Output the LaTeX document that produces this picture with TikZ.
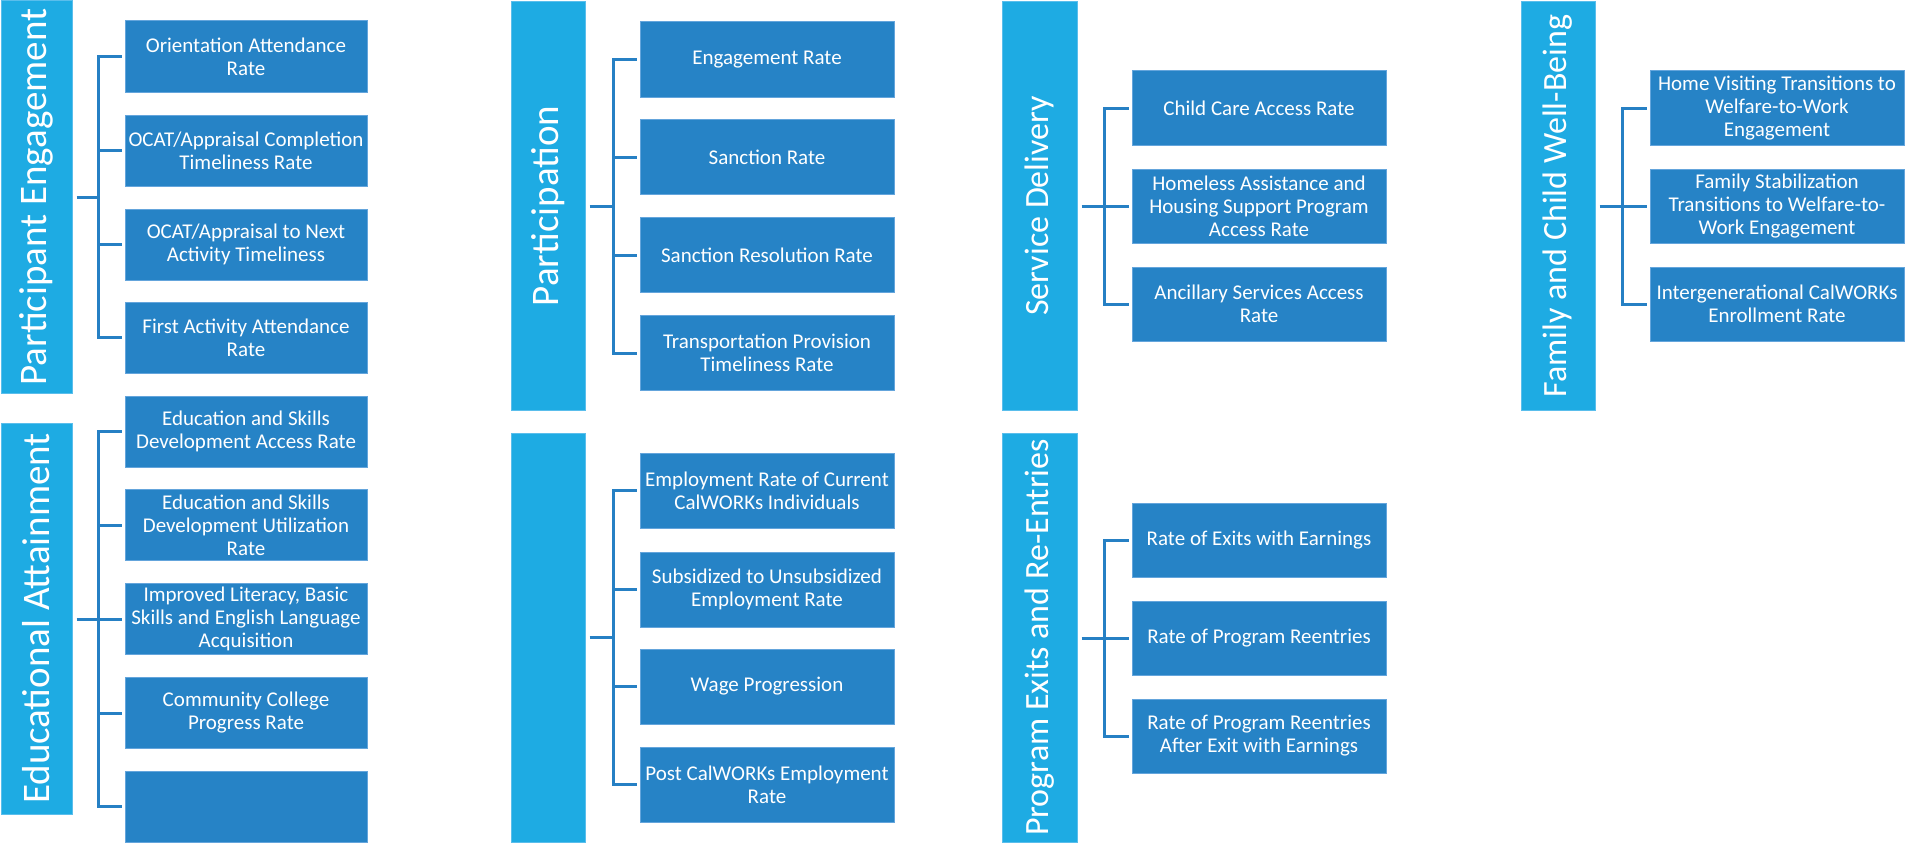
\documentclass[tikz,border=0pt]{standalone}
\usepackage{fontspec}
\setmainfont{Carlito}
\definecolor{hdrc}{RGB}{30,171,227}
\definecolor{hdrb}{RGB}{90,190,236}
\definecolor{boxc}{RGB}{38,131,198}
\definecolor{boxb}{RGB}{100,165,220}
\definecolor{conc}{RGB}{38,128,196}
\newcommand{\bigfnt}{\fontsize{39}{40}\selectfont}
\newcommand{\midfnt}{\fontsize{34}{35}\selectfont}
\newcommand{\boxfnt}{\fontsize{21}{23}\selectfont}
\tikzset{
  hdr/.style={fill=hdrc, draw=hdrb, line width=1pt, inner sep=0pt, text=white},
  mbox/.style={fill=boxc, draw=boxb, line width=1pt, inner sep=0pt, text=white, align=center, font=\boxfnt},
  conn/.style={draw=conc, line width=3pt, line join=miter},
}
\begin{document}
\begin{tikzpicture}[x=1pt,y=-1pt]
\useasboundingbox (0,0) rectangle (1908,843);

% ---------- headers ----------
\node[hdr, minimum width=71pt, minimum height=392pt] (hPE) at (36.5,197) {\rotatebox{90}{\bigfnt Participant Engagement}};
\node[hdr, minimum width=71pt, minimum height=391pt] (hEA) at (36.5,618.5) {\rotatebox{90}{\bigfnt Educational Attainment}};
\node[hdr, minimum width=74pt, minimum height=408pt] (hP) at (548,206) {\rotatebox{90}{\bigfnt Participation}};
\node[hdr, minimum width=74pt, minimum height=409pt] (hEm) at (548,637.5) {};
\node[hdr, minimum width=75pt, minimum height=408pt] (hSD) at (1039.5,206) {\rotatebox{90}{\midfnt Service Delivery}};
\node[hdr, minimum width=75pt, minimum height=409pt] (hPX) at (1039.5,637.5) {\rotatebox{90}{\midfnt Program Exits and Re-Entries}};
\node[hdr, minimum width=74pt, minimum height=408pt] (hFC) at (1558,206) {\rotatebox{90}{\midfnt Family and Child Well-Being}};

% ---------- Participant Engagement ----------
\begin{scope}[every node/.style={mbox, minimum width=242pt, minimum height=71pt}]
\node (pe1) at (246,56.5) {Orientation Attendance\\Rate};
\node (pe2) at (246,150.5) {OCAT/Appraisal Completion\\Timeliness Rate};
\node (pe3) at (246,244.5) {OCAT/Appraisal to Next\\Activity Timeliness};
\node (pe4) at (246,337.5) {First Activity Attendance\\Rate};
% Educational Attainment
\node (ea1) at (246,431.5) {Education and Skills\\Development Access Rate};
\node (ea2) at (246,525) {Education and Skills\\Development Utilization\\Rate};
\node (ea3) at (246,619) {Improved Literacy, Basic\\Skills and English Language\\Acquisition};
\node (ea4) at (246,713) {Community College\\Progress Rate};
\node (ea5) at (246,806.5) {};
\end{scope}

\begin{scope}[every node/.style={mbox, minimum width=254pt, minimum height=75pt}]
% Participation
\node (pa1) at (767,59.5) {Engagement Rate};
\node (pa2) at (767,157) {Sanction Rate};
\node (pa3) at (767,255) {Sanction Resolution Rate};
\node (pa4) at (767,353) {Transportation Provision\\Timeliness Rate};
% Employment
\node (em1) at (767,490.5) {Employment Rate of Current\\CalWORKs Individuals};
\node (em2) at (767,589.5) {Subsidized to Unsubsidized\\Employment Rate};
\node (em3) at (767,686.5) {Wage Progression};
\node (em4) at (767,784.5) {Post CalWORKs Employment\\Rate};
\end{scope}

\begin{scope}[every node/.style={mbox, minimum width=254pt, minimum height=74pt}]
% Service Delivery
\node (sd1) at (1259,108) {Child Care Access Rate};
\node (sd2) at (1259,206) {Homeless Assistance and\\Housing Support Program\\Access Rate};
\node (sd3) at (1259,304) {Ancillary Services Access\\Rate};
% Program Exits
\node (px1) at (1259,540) {Rate of Exits with Earnings};
\node (px2) at (1259,638) {Rate of Program Reentries};
\node (px3) at (1259,736) {Rate of Program Reentries\\After Exit with Earnings};
% Family and Child
\node (fc1) at (1777,108) {Home Visiting Transitions to\\Welfare-to-Work\\Engagement};
\node (fc2) at (1777,206) {Family Stabilization\\Transitions to Welfare-to-\\Work Engagement};
\node (fc3) at (1777,304) {Intergenerational CalWORKs\\Enrollment Rate};
\end{scope}

% ---------- connectors ----------
\coordinate (kPE) at (98.5,197);
\coordinate (kEA) at (98.5,619);
\coordinate (kPA) at (613,206);
\coordinate (kEM) at (613,637.5);
\coordinate (kSD) at (1104,206);
\coordinate (kPX) at (1104,638);
\coordinate (kFC) at (1622,206);

\draw[conn] (hPE.east |- kPE) ++(4,0) -- (kPE);
\draw[conn] ([xshift=-3pt]pe1.west) -| (kPE |- pe4.west) -- ([xshift=-3pt]pe4.west);
\foreach \n in {pe2,pe3} \draw[conn] (kPE |- \n.west) -- ([xshift=-3pt]\n.west);

\draw[conn] (hEA.east |- kEA) ++(4,0) -- (kEA);
\draw[conn] ([xshift=-3pt]ea1.west) -| (kEA |- ea5.west) -- ([xshift=-3pt]ea5.west);
\foreach \n in {ea2,ea3,ea4} \draw[conn] (kEA |- \n.west) -- ([xshift=-3pt]\n.west);

\draw[conn] (hP.east |- kPA) ++(4,0) -- (kPA);
\draw[conn] ([xshift=-3pt]pa1.west) -| (kPA |- pa4.west) -- ([xshift=-3pt]pa4.west);
\foreach \n in {pa2,pa3} \draw[conn] (kPA |- \n.west) -- ([xshift=-3pt]\n.west);

\draw[conn] (hEm.east |- kEM) ++(4,0) -- (kEM);
\draw[conn] ([xshift=-3pt]em1.west) -| (kEM |- em4.west) -- ([xshift=-3pt]em4.west);
\foreach \n in {em2,em3} \draw[conn] (kEM |- \n.west) -- ([xshift=-3pt]\n.west);

\draw[conn] (hSD.east |- kSD) ++(4,0) -- (kSD);
\draw[conn] ([xshift=-3pt]sd1.west) -| (kSD |- sd3.west) -- ([xshift=-3pt]sd3.west);
\draw[conn] (kSD |- sd2.west) -- ([xshift=-3pt]sd2.west);

\draw[conn] (hPX.east |- kPX) ++(4,0) -- (kPX);
\draw[conn] ([xshift=-3pt]px1.west) -| (kPX |- px3.west) -- ([xshift=-3pt]px3.west);
\draw[conn] (kPX |- px2.west) -- ([xshift=-3pt]px2.west);

\draw[conn] (hFC.east |- kFC) ++(4,0) -- (kFC);
\draw[conn] ([xshift=-3pt]fc1.west) -| (kFC |- fc3.west) -- ([xshift=-3pt]fc3.west);
\draw[conn] (kFC |- fc2.west) -- ([xshift=-3pt]fc2.west);
\end{tikzpicture}
\end{document}
